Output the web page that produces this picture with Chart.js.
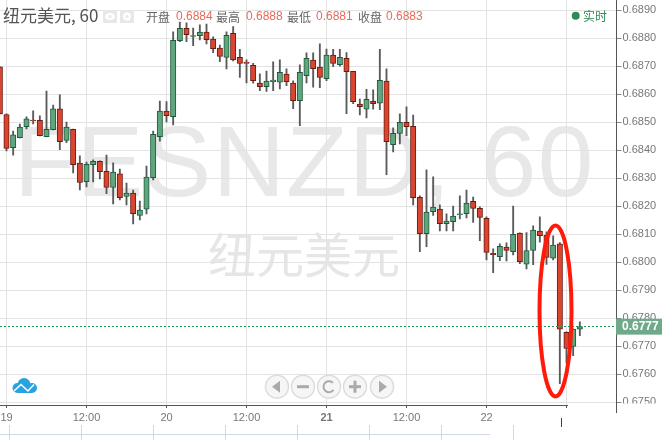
<!DOCTYPE html>
<html>
<head>
<meta charset="utf-8">
<style>
    html, body { margin: 0; padding: 0; background: #fff; }
    canvas { display: block; }
</style>
<script src="https://cdn.jsdelivr.net/npm/chart.js@4/dist/chart.umd.min.js"></script>
</head>
<body>
<canvas id="chart" width="662" height="440"></canvas>
<script>
const firstHour = -1;
const opens = [
    0.68698, 0.68528, 0.68409, 0.68445, 0.68484, 0.68508, 0.68507, 0.68449, 0.68474, 0.68548,
    0.68435, 0.68475, 0.68354, 0.68288, 0.68349, 0.68361, 0.68325, 0.68267, 0.68316, 0.68235,
    0.68247, 0.68167, 0.68190, 0.68302, 0.68449, 0.68540, 0.68520, 0.68792, 0.68836, 0.68807,
    0.68810, 0.68822, 0.68797, 0.68765, 0.68732, 0.68818, 0.68732, 0.68715, 0.68704, 0.68640,
    0.68627, 0.68645, 0.68643, 0.68672, 0.68640, 0.68577, 0.68667, 0.68722, 0.68697, 0.68656,
    0.68740, 0.68706, 0.68729, 0.68682, 0.68565, 0.68547, 0.68575, 0.68568, 0.68647, 0.68420,
    0.68460, 0.68500, 0.68486, 0.68232, 0.68102, 0.68181, 0.68190, 0.68138, 0.68145, 0.68170,
    0.68174, 0.68218, 0.68193, 0.68157, 0.68032, 0.68020, 0.68054, 0.68038, 0.68104, 0.67993,
    0.68042, 0.68111, 0.68097, 0.68015, 0.68066, 0.67750, 0.67699, 0.67761
];
const highs = [
    0.68698, 0.68530, 0.68469, 0.68494, 0.68520, 0.68541, 0.68523, 0.68612, 0.68562, 0.68598,
    0.68501, 0.68476, 0.68380, 0.68358, 0.68366, 0.68362, 0.68383, 0.68355, 0.68333, 0.68283,
    0.68258, 0.68219, 0.68344, 0.68469, 0.68576, 0.68574, 0.68823, 0.68858, 0.68855, 0.68837,
    0.68848, 0.68851, 0.68805, 0.68776, 0.68823, 0.68842, 0.68761, 0.68723, 0.68711, 0.68673,
    0.68683, 0.68716, 0.68723, 0.68691, 0.68648, 0.68705, 0.68748, 0.68748, 0.68780, 0.68762,
    0.68761, 0.68761, 0.68749, 0.68682, 0.68583, 0.68618, 0.68616, 0.68761, 0.68691, 0.68480,
    0.68530, 0.68555, 0.68526, 0.68237, 0.68330, 0.68305, 0.68205, 0.68173, 0.68201, 0.68237,
    0.68258, 0.68233, 0.68198, 0.68162, 0.68048, 0.68066, 0.68069, 0.68201, 0.68105, 0.68106,
    0.68130, 0.68162, 0.68109, 0.68094, 0.68070, 0.67751, 0.67762, 0.67787
];
const lows = [
    0.68530, 0.68398, 0.68383, 0.68444, 0.68476, 0.68494, 0.68451, 0.68448, 0.68473, 0.68402,
    0.68427, 0.68319, 0.68258, 0.68269, 0.68287, 0.68298, 0.68245, 0.68208, 0.68223, 0.68205,
    0.68137, 0.68151, 0.68173, 0.68294, 0.68433, 0.68501, 0.68491, 0.68788, 0.68788, 0.68774,
    0.68794, 0.68780, 0.68749, 0.68717, 0.68691, 0.68719, 0.68660, 0.68641, 0.68640, 0.68613,
    0.68610, 0.68613, 0.68619, 0.68631, 0.68549, 0.68488, 0.68641, 0.68626, 0.68624, 0.68649,
    0.68699, 0.68701, 0.68531, 0.68567, 0.68526, 0.68516, 0.68547, 0.68545, 0.68313, 0.68394,
    0.68423, 0.68452, 0.68205, 0.68038, 0.68056, 0.68167, 0.68112, 0.68112, 0.68112, 0.68155,
    0.68158, 0.68142, 0.68077, 0.68008, 0.67963, 0.68006, 0.68005, 0.68026, 0.67995, 0.67976,
    0.67991, 0.68072, 0.67992, 0.68008, 0.67566, 0.67640, 0.67666, 0.67738
];
const closes = [
    0.68530, 0.68407, 0.68455, 0.68483, 0.68512, 0.68505, 0.68452, 0.68475, 0.68548, 0.68431,
    0.68483, 0.68349, 0.68285, 0.68350, 0.68361, 0.68324, 0.68267, 0.68322, 0.68231, 0.68247,
    0.68174, 0.68186, 0.68304, 0.68457, 0.68540, 0.68524, 0.68793, 0.68836, 0.68813, 0.68810,
    0.68822, 0.68795, 0.68763, 0.68735, 0.68811, 0.68723, 0.68710, 0.68710, 0.68649, 0.68627,
    0.68647, 0.68651, 0.68679, 0.68645, 0.68577, 0.68679, 0.68729, 0.68692, 0.68660, 0.68740,
    0.68710, 0.68732, 0.68681, 0.68574, 0.68556, 0.68582, 0.68567, 0.68650, 0.68431, 0.68461,
    0.68500, 0.68484, 0.68231, 0.68102, 0.68179, 0.68197, 0.68138, 0.68147, 0.68165, 0.68173,
    0.68211, 0.68192, 0.68160, 0.68035, 0.68027, 0.68057, 0.68042, 0.68100, 0.68002, 0.68042,
    0.68115, 0.68095, 0.68017, 0.68061, 0.67761, 0.67692, 0.67761, 0.67770
];
const xTickHours = [0, 12, 24, 36, 48, 60, 72, 84];
const xTickLabels = ["19", "12:00", "20", "12:00", "21", "12:00", "22", ""];
const yTicks = [0.675, 0.676, 0.677, 0.678, 0.679, 0.68, 0.681, 0.682, 0.683, 0.684, 0.685, 0.686, 0.687, 0.688, 0.689];
const lastPrice = 0.6777;
const ohlcLabels = ["开盘", "最高", "最低", "收盘"];
const ohlcValues = ["0.6884", "0.6888", "0.6881", "0.6883"];

const RED = "#d9452f", RED_DARK = "#6b1a12", GREEN = "#5fa67e", GREEN_DARK = "#1d5a3a", TEXT = "#777";
const CJK = '"Noto Sans CJK SC", "Liberation Sans", sans-serif';

const hour = i => i + firstHour;
const isUp = i => closes[i] >= opens[i];

const text = (ctx, str, x, y, font, color, align = "left") => {
    ctx.font = font;
    ctx.fillStyle = color;
    ctx.textAlign = align;
    ctx.textBaseline = "middle";
    ctx.fillText(str, x, y);
};

const noPadding = scale => {
    scale.paddingTop = scale.paddingBottom = scale.paddingLeft = scale.paddingRight = 0;
};

const drawBackdrop = chart => {
    const { ctx } = chart;
    ctx.save();
    ctx.fillStyle = "#fff";
    ctx.fillRect(0, 0, 662, 440);
    ctx.letterSpacing = "1.4px";
    text(ctx, "FESNZD, 60", 14, 168, '100px "Liberation Sans"', "#e8e8e8");
    ctx.letterSpacing = "0px";
    text(ctx, "纽元美元", 208, 255, "48px " + CJK, "#e6e6e6");
    ctx.restore();
};

const drawHeader = ctx => {
    text(ctx, "纽元美元, 60", 3, 16, "17px " + CJK, "#555");
    ctx.fillStyle = "#e8e8e8";
    ctx.fillRect(103, 10, 14, 13);
    ctx.fillRect(120, 10, 14, 13);
    ctx.fillStyle = "#fff";
    ctx.beginPath();
    ctx.ellipse(110, 16.5, 5, 3.5, 0, 0, Math.PI * 2);
    ctx.moveTo(131, 16.5);
    ctx.arc(127, 16.5, 4, 0, Math.PI * 2);
    ctx.fill();
    ctx.fillStyle = "#e8e8e8";
    ctx.beginPath();
    ctx.arc(110, 16.5, 1.6, 0, Math.PI * 2);
    ctx.moveTo(128.6, 16.5);
    ctx.arc(127, 16.5, 1.6, 0, Math.PI * 2);
    ctx.fill();

    const labelX = [146, 216, 287, 358];
    const valueX = [176, 246, 316, 386];
    ohlcLabels.forEach((label, i) => {
        text(ctx, label, labelX[i], 17, "12px " + CJK, "#666");
        text(ctx, ohlcValues[i], valueX[i], 17, '12px "Liberation Sans"', "#e8695c");
    });

    ctx.fillStyle = "#2e8b57";
    ctx.beginPath();
    ctx.arc(575.7, 15.7, 4, 0, Math.PI * 2);
    ctx.fill();
    text(ctx, "实时", 583, 16, "12px " + CJK, "#2e8b57");
};

const drawLogo = ctx => {
    ctx.fillStyle = "#29a3e0";
    ctx.beginPath();
    ctx.arc(17.5, 388, 5, 0, Math.PI * 2);
    ctx.arc(24, 384.5, 6.5, 0, Math.PI * 2);
    ctx.arc(32, 388, 5, 0, Math.PI * 2);
    ctx.rect(17, 387, 15, 6);
    ctx.fill();
    ctx.strokeStyle = "#fff";
    ctx.lineWidth = 1.5;
    ctx.beginPath();
    ctx.moveTo(14, 391);
    ctx.lineTo(21, 384.5);
    ctx.lineTo(28, 391);
    ctx.lineTo(34, 384.5);
    ctx.stroke();
};

const drawNav = ctx => {
    const centers = [277, 303, 329, 355, 382];
    const y = 386.7;
    centers.forEach(x => {
        ctx.beginPath();
        ctx.arc(x, y, 11.5, 0, Math.PI * 2);
        ctx.fillStyle = "rgba(245,245,245,0.9)";
        ctx.fill();
        ctx.strokeStyle = "#dcdcdc";
        ctx.lineWidth = 1.5;
        ctx.stroke();
    });
    ctx.fillStyle = "#aaa";
    ctx.beginPath();
    ctx.moveTo(272, y);
    ctx.lineTo(280, y - 6);
    ctx.lineTo(280, y + 6);
    ctx.moveTo(387, y);
    ctx.lineTo(379, y - 6);
    ctx.lineTo(379, y + 6);
    ctx.fill();
    ctx.fillRect(297, y - 1.5, 12, 3);
    ctx.fillRect(349, y - 1.5, 12, 3);
    ctx.fillRect(353.5, y - 6, 3, 12);
    ctx.strokeStyle = "#aaa";
    ctx.lineWidth = 2;
    ctx.beginPath();
    ctx.arc(329, y, 5.5, 0.2 * Math.PI, 1.75 * Math.PI);
    ctx.stroke();
};

const drawFooter = ctx => {
    // x axis line stops short of the price axis in the original
    ctx.fillStyle = "#fff";
    ctx.fillRect(568, 404.5, 48, 34);
    ctx.fillRect(618, 403.5, 44, 8);
    ctx.fillStyle = "#555";
    ctx.fillRect(0, 405, 568, 1);
    ctx.fillRect(616, 403, 1, 10);

    ctx.strokeStyle = "#cfd7e8";
    ctx.lineWidth = 1;
    ctx.beginPath();
    ctx.moveTo(0, 434.5);
    ctx.lineTo(490, 434.5);
    [9.5, 81.5, 153.5, 225.5, 297.5, 369.5, 441.5, 513.5].forEach(x => {
        ctx.moveTo(x, 425);
        ctx.lineTo(x, 440);
    });
    ctx.stroke();
    ctx.fillStyle = "#444";
    ctx.fillRect(561, 418, 1, 9);
};

const overlays = {
    id: "overlays",
    beforeDraw: drawBackdrop,
    afterDatasetsDraw(chart) {
        const { ctx, scales: { x, y } } = chart;
        ctx.save();
        // last price line
        const py = Math.floor(y.getPixelForValue(lastPrice)) + 0.5;
        ctx.strokeStyle = "#1f9a5c";
        ctx.lineWidth = 1;
        ctx.setLineDash([2, 2]);
        ctx.beginPath();
        ctx.moveTo(0, py);
        ctx.lineTo(617, py);
        ctx.stroke();
        ctx.setLineDash([]);
        // hand drawn ring round the drop
        ctx.strokeStyle = "#ff1a0a";
        ctx.lineWidth = 4;
        ctx.beginPath();
        ctx.ellipse(x.getPixelForValue(82.35), y.getPixelForValue(0.67826), 16, 85.5, 0, 0, Math.PI * 2);
        ctx.stroke();
        ctx.restore();
    },
    afterDraw(chart) {
        const { ctx, scales: { y } } = chart;
        ctx.save();
        drawFooter(ctx);
        drawHeader(ctx);
        drawLogo(ctx);
        drawNav(ctx);
        const py = y.getPixelForValue(lastPrice);
        ctx.fillStyle = "#6fa98a";
        ctx.fillRect(616, py - 8, 46, 16);
        text(ctx, lastPrice.toFixed(4), 622, py + 0.5, 'bold 12px "Liberation Sans"', "#fff");
        ctx.restore();
    }
};

new Chart(document.getElementById("chart").getContext("2d"), {
    type: "bar",
    plugins: [overlays],
    data: {
        datasets: [{
            label: "body",
            data: opens.map((open, i) => ({ x: hour(i), y: [open, closes[i]] })),
            backgroundColor: ctx => isUp(ctx.dataIndex) ? GREEN : RED,
            borderColor: ctx => isUp(ctx.dataIndex) ? GREEN_DARK : RED_DARK,
            borderWidth: 1,
            borderSkipped: false,
            barThickness: 5.4,
            grouped: false,
            order: 1
        }, {
            label: "wick",
            data: highs.map((high, i) => ({ x: hour(i), y: [lows[i], high] })),
            backgroundColor: "#5a5a5a",
            borderWidth: 0,
            barThickness: 1.2,
            grouped: false,
            order: 2
        }]
    },
    options: {
        responsive: false,
        animation: false,
        events: [],
        layout: { padding: 0 },
        plugins: { legend: { display: false }, tooltip: { enabled: false } },
        scales: {
            x: {
                type: "linear",
                offset: false,
                min: -0.975,
                max: 91.5,
                afterBuildTicks: scale => { scale.ticks = xTickHours.map(value => ({ value })); },
                afterFit: scale => { scale.height = 35; noPadding(scale); },
                border: { display: false },
                grid: { offset: false, color: "#e3e3e3", tickColor: "#555", tickLength: 3 },
                ticks: {
                    autoSkip: false,
                    maxRotation: 0,
                    padding: 3,
                    color: TEXT,
                    font: ctx => ({
                        family: "Liberation Sans",
                        size: 11,
                        weight: xTickLabels[ctx.index] === "21" ? "bold" : "normal"
                    }),
                    callback: (value, index) => xTickLabels[index]
                }
            },
            y: {
                position: "right",
                min: 0.6749,
                max: 0.68937,
                afterBuildTicks: scale => { scale.ticks = yTicks.map(value => ({ value })); },
                afterFit: scale => { scale.width = 45.5; noPadding(scale); },
                border: { color: "#555" },
                grid: { color: "#e3e3e3", tickColor: "#888", tickLength: 5 },
                ticks: {
                    padding: 1,
                    color: TEXT,
                    font: { family: "Liberation Sans", size: 11 },
                    callback: value => value.toFixed(4)
                }
            }
        }
    }
});
</script>
</body>
</html>
